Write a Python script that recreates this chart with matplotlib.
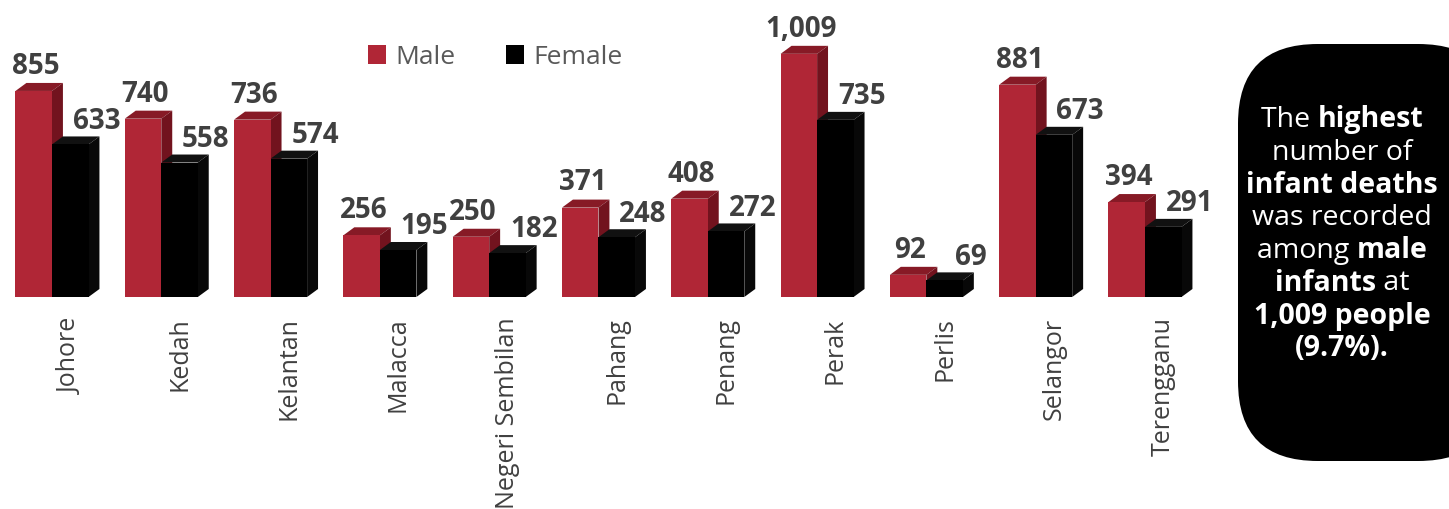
import matplotlib
matplotlib.use("Agg")
import matplotlib.pyplot as plt
from matplotlib.patches import Polygon, Rectangle, FancyBboxPatch, Patch

states = ["Johore", "Kedah", "Kelantan", "Malacca", "Negeri Sembilan", "Pahang",
          "Penang", "Perak", "Perlis", "Selangor", "Terengganu"]
male = [855, 740, 736, 256, 250, 371, 408, 1009, 92, 881, 394]
female = [633, 558, 574, 195, 182, 248, 272, 735, 69, 673, 291]
male_labels = ["855", "740", "736", "256", "250", "371", "408", "1,009", "92", "881", "394"]
female_labels = ["633", "558", "574", "195", "182", "248", "272", "735", "69", "673", "291"]

W, H = 1449, 510
fig = plt.figure(figsize=(W / 100, H / 100), dpi=100)
plt.rcParams['font.family'] = ['Open Sans', 'DejaVu Sans']

base_px = 298
ax = fig.add_axes([0, (H - base_px) / H, 1230 / W, base_px / H])
ymax = base_px / 0.241
ax.set_ylim(0, ymax)
ax.set_xlim(-52 / 109.3, (1230 - 52) / 109.3)
ax.axis("off")

bw = 0.334
dx = 0.10
dy = 8 / 0.241

M_FRONT, M_TOP, M_SIDE = "#b02636", "#871a26", "#72131e"
F_FRONT, F_TOP, F_SIDE = "#000000", "#111111", "#080808"

def bar3d(x0, h, front, top, side, z):
    ax.add_patch(Polygon([(x0, h), (x0 + dx, h + dy), (x0 + bw + dx, h + dy), (x0 + bw, h)],
                         closed=True, facecolor=top, edgecolor="none", zorder=z))
    ax.add_patch(Polygon([(x0 + bw, 0), (x0 + bw + dx, dy), (x0 + bw + dx, h + dy), (x0 + bw, h)],
                         closed=True, facecolor=side, edgecolor="none", zorder=z))
    ax.add_patch(Rectangle((x0, 0), bw, h, facecolor=front, edgecolor="none", zorder=z + 0.5))

lab_col = "#404040"
for i in range(len(states)):
    z = 2 + i * 4
    bar3d(i - bw, male[i], M_FRONT, M_TOP, M_SIDE, z)
    bar3d(i, female[i], F_FRONT, F_TOP, F_SIDE, z + 2)
    ax.annotate(male_labels[i], (i - bw / 2 + 0.02, male[i]), xytext=(0, 8),
                textcoords="offset points", ha="center", va="bottom",
                fontsize=20, fontweight="bold", color=lab_col, zorder=100)
    ax.annotate(female_labels[i], (i + bw / 2 + 0.24, female[i]), xytext=(0, 7),
                textcoords="offset points", ha="center", va="bottom",
                fontsize=20, fontweight="bold", color=lab_col, zorder=100)
    ax.annotate(states[i], (i + bw / 2, 0), xytext=(0, -14),
                textcoords="offset points", ha="center", va="top", rotation=90,
                fontsize=18, color=lab_col, annotation_clip=False)

# legend
fig.legend(handles=[Patch(facecolor=M_FRONT, label="Male"),
                    Patch(facecolor=F_FRONT, label="Female")],
           loc="center left", bbox_to_anchor=(344 / W, 1 - 58 / H), ncol=2,
           frameon=False, fontsize=19, handlelength=0.7, handleheight=0.7,
           handletextpad=0.35, columnspacing=1.9, labelcolor="#595959")

# annotation box
box = FancyBboxPatch((1238 / W, 1 - 462 / H), 260 / W, 417 / H,
                     boxstyle="round,pad=0,rounding_size=0.055",
                     transform=fig.transFigure, facecolor="black", edgecolor="none",
                     mutation_aspect=W / H)
fig.patches.append(box)

lines = [
    [("The ", False), ("highest", True)],
    [("number of", False)],
    [("infant deaths", True)],
    [("was recorded", False)],
    [("among ", False), ("male", True)],
    [("infants", True), (" at", False)],
    [("1,009 people", True)],
    [("(9.7%).", True)],
]
cx = 1342
y0 = 120
lh = 32.7
fig.canvas.draw()
renderer = fig.canvas.get_renderer()
for li, segs in enumerate(lines):
    yy = 1 - (y0 + li * lh) / H
    texts = []
    for s, b in segs:
        t = fig.text(0, yy, s.replace(" ", "\u00a0"), fontsize=20.5,
                     fontweight="bold" if b else "normal", color="white",
                     ha="left", va="center")
        texts.append(t)
    widths = [t.get_window_extent(renderer).width for t in texts]
    total = sum(widths)
    x = cx - total / 2
    for t, w in zip(texts, widths):
        t.set_x(x / W)
        x += w

fig.savefig("out.png", dpi=100)
